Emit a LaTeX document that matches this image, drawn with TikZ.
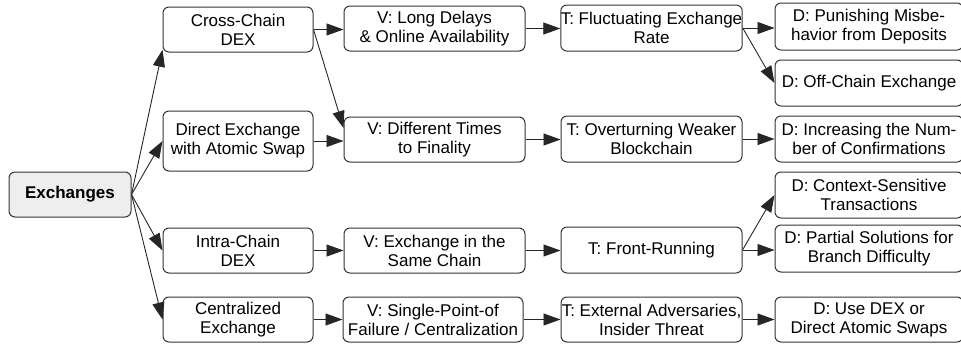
\documentclass[tikz,border=0pt]{standalone}
\usepackage{fontspec}
\setmainfont{Liberation Sans}
\usetikzlibrary{arrows.meta}
\definecolor{boxline}{HTML}{333333}
\definecolor{rootfill}{HTML}{EEEEEE}
\tikzset{
  box/.style={draw=boxline, line width=1pt, rounded corners=6pt, align=center,
    inner sep=0pt, minimum height=45pt,
    font=\fontsize{17}{19}\selectfont},
  rootbox/.style={box, fill=rootfill, font=\fontsize{17}{19}\selectfont\bfseries},
  conn/.style={draw=black!85, line width=0.9pt, -{Triangle[length=17pt,width=12pt]}}
}
\begin{document}
\begin{tikzpicture}[x=1pt,y=-1pt]
\path[use as bounding box] (0,0) rectangle (961,343);
\clip (0,0) rectangle (961,343);
% root
\node[rootbox, minimum width=122pt] (ex) at (70,194.5) {Exchanges};
% column 1
\node[box, minimum width=150pt] (cc) at (238,29.5) {Cross-Chain\\DEX};
\node[box, minimum width=150pt, minimum height=60pt] (de) at (238,141) {Direct Exchange\\with Atomic Swap};
\node[box, minimum width=150pt] (ic) at (238,250.5) {Intra-Chain\\DEX};
\node[box, minimum width=150pt] (ce) at (238,319.5) {Centralized\\Exchange};
% column 2
\node[box, minimum width=181pt] (v1) at (434.5,28.5) {V: Long Delays\\\& Online Availability};
\node[box, minimum width=181pt] (v2) at (434.5,139.5) {V: Different Times\\to Finality};
\node[box, minimum width=181pt] (v3) at (434.5,250.5) {V: Exchange in the\\Same Chain};
\node[box, minimum width=180pt] (v4) at (433,319.5) {V: Single-Point-of\\Failure / Centralization};
% column 3
\node[box, minimum width=181pt, minimum height=46pt] (t1) at (651.5,28) {T: Fluctuating Exchange\\Rate};
\node[box, minimum width=181pt, minimum height=46pt] (t2) at (651.5,139) {T: Overturning Weaker\\Blockchain};
\node[box, minimum width=181pt, minimum height=46pt] (t3) at (651.5,250) {T: Front-Running};
\node[box, minimum width=181pt] (t4) at (651.5,319.5) {T: External Adversaries,\\Insider Threat};
% column 4
\node[box, minimum width=188pt, minimum height=47pt] (d1) at (869,26.5) {D: Punishing Misbe-\\havior from Deposits};
\node[box, minimum width=188pt, minimum height=46pt] (d2) at (869,83) {D: Off-Chain Exchange};
\node[box, minimum width=188pt, minimum height=46pt] (d3) at (869,139) {D: Increasing the Num-\\ber of Confirmations};
\node[box, minimum width=188pt, minimum height=46pt] (d4) at (869,195) {D: Context-Sensitive\\Transactions};
\node[box, minimum width=188pt, minimum height=47pt] (d5) at (869,248.5) {D: Partial Solutions for\\Branch Difficulty};
\node[box, minimum width=188pt] (d6) at (869,319.5) {D: Use DEX or\\Direct Atomic Swaps};
% connectors from root
\draw[conn] (ex.east) -- (cc.195);
\draw[conn] (ex.east) -- (de.west);
\draw[conn] (ex.east) -- (ic.west);
\draw[conn] (ex.east) -- (ce.west);
% column 1 -> 2
\draw[conn] (cc.east) -- (cc.east -| v1.west);
\draw[conn] (cc.east) -- ([yshift=11.5pt]v2.west);
\draw[conn] (de.east) -- (de.east -| v2.west);
\draw[conn] (ic.east) -- (ic.east -| v3.west);
\draw[conn] (ce.east) -- (ce.east -| v4.west);
% column 2 -> 3
\draw[conn] (v1.east) -- (v1.east -| t1.west);
\draw[conn] (v2.east) -- (v2.east -| t2.west);
\draw[conn] (v3.east) -- (v3.east -| t3.west);
\draw[conn] (v4.east) -- (v4.east -| t4.west);
% column 3 -> 4
\draw[conn] (t1.east) -- (t1.east -| d1.west);
\draw[conn] (t1.east) -- (d2.west);
\draw[conn] (t2.east) -- (t2.east -| d3.west);
\draw[conn] (t3.east) -- (d4.west);
\draw[conn] (t3.east) -- (t3.east -| d5.west);
\draw[conn] (t4.east) -- (t4.east -| d6.west);
\end{tikzpicture}
\end{document}
